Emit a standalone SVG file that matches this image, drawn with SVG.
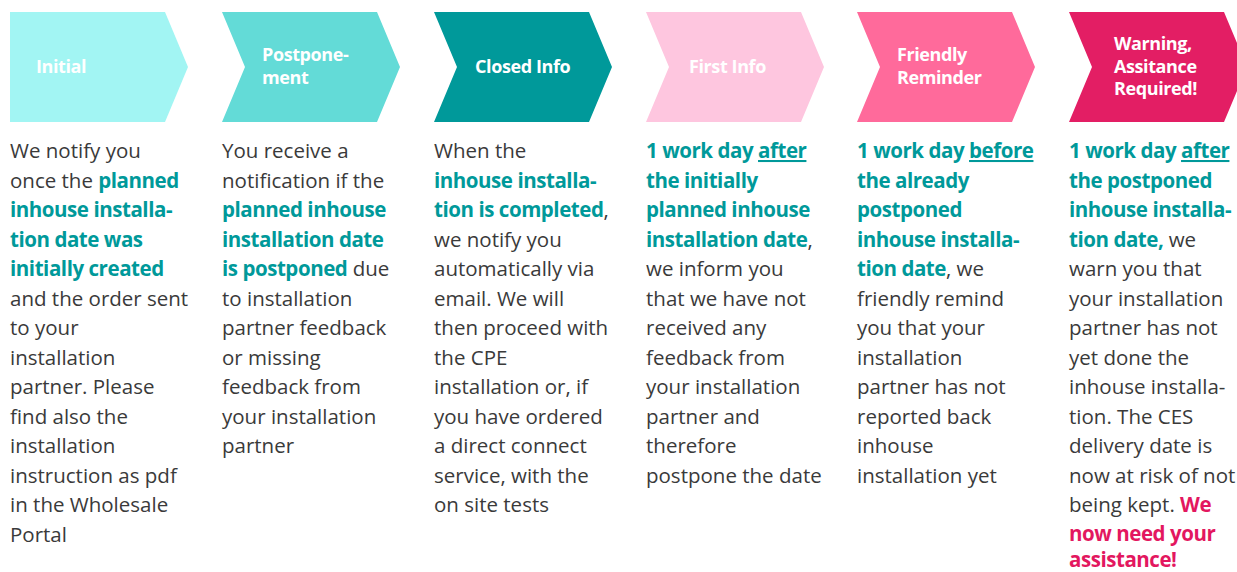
<svg xmlns="http://www.w3.org/2000/svg" width="1237" height="572" viewBox="0 0 1237 572">
<style>
text{font-family:"Open Sans","Noto Sans","Liberation Sans",sans-serif;}
.b{font-size:20.5px;fill:#3a3a3a;}
.t{font-weight:700;fill:#00999a;letter-spacing:-0.45px;}
.p{font-weight:700;fill:#e3175f;letter-spacing:-0.45px;}
.u{text-decoration:underline;}
.h{font-size:18px;font-weight:700;fill:#ffffff;letter-spacing:-0.4px;}
</style>
<rect width="1237" height="572" fill="#ffffff"/>
<g id="node-initial">
<path d="M10,12 H165 L188,67 L165,122 H10 Z" fill="#a2f5f3"/>
<text class="h" x="36" y="73">Initial</text>
</g>
<g id="node-postponement">
<path d="M222,12 H377 L400,67 L377,122 H222 L245,67 Z" fill="#63dbd7"/>
<text class="h" x="262" y="61">Postpone-</text>
<text class="h" x="262" y="84">ment</text>
</g>
<g id="node-closed-info">
<path d="M434,12 H589 L612,67 L589,122 H434 L457,67 Z" fill="#00999a"/>
<text class="h" x="475" y="73">Closed Info</text>
</g>
<g id="node-first-info">
<path d="M646,12 H801 L824,67 L801,122 H646 L669,67 Z" fill="#fec6df"/>
<text class="h" x="689" y="73">First Info</text>
</g>
<g id="node-friendly-reminder">
<path d="M857,12 H1012 L1035,67 L1012,122 H857 L880,67 Z" fill="#ff6a9b"/>
<text class="h" x="897" y="61">Friendly</text>
<text class="h" x="897" y="84">Reminder</text>
</g>
<g id="node-warning">
<path d="M1069,12 H1224 L1247,67 L1224,122 H1069 L1092,67 Z" fill="#e31e64"/>
<text class="h" x="1114" y="50">Warning,</text>
<text class="h" x="1114" y="73">Assitance</text>
<text class="h" x="1114" y="95">Required!</text>
</g>
<g id="connectors"></g>
<g id="text-initial" class="b">
<text x="10" y="158">We notify you</text>
<text x="10" y="187.5">once the <tspan class="t">planned</tspan></text>
<text x="10" y="217" class="t">inhouse installa-</text>
<text x="10" y="246.5" class="t">tion date was</text>
<text x="10" y="276" class="t">initially created</text>
<text x="10" y="305.5">and the order sent</text>
<text x="10" y="335">to your</text>
<text x="10" y="364.5">installation</text>
<text x="10" y="394">partner. Please</text>
<text x="10" y="423.5">find also the</text>
<text x="10" y="453">installation</text>
<text x="10" y="482.5">instruction as pdf</text>
<text x="10" y="512">in the Wholesale</text>
<text x="10" y="541.5">Portal</text>
</g>
<g id="text-postponement" class="b">
<text x="222" y="158">You receive a</text>
<text x="222" y="187.5">notification if the</text>
<text x="222" y="217" class="t">planned inhouse</text>
<text x="222" y="246.5" class="t">installation date</text>
<text x="222" y="276"><tspan class="t">is postponed</tspan> due</text>
<text x="222" y="305.5">to installation</text>
<text x="222" y="335">partner feedback</text>
<text x="222" y="364.5">or missing</text>
<text x="222" y="394">feedback from</text>
<text x="222" y="423.5">your installation</text>
<text x="222" y="453">partner</text>
</g>
<g id="text-closed-info" class="b">
<text x="434" y="158">When the</text>
<text x="434" y="187.5" class="t">inhouse installa-</text>
<text x="434" y="217"><tspan class="t">tion is completed</tspan>,</text>
<text x="434" y="246.5">we notify you</text>
<text x="434" y="276">automatically via</text>
<text x="434" y="305.5">email. We will</text>
<text x="434" y="335">then proceed with</text>
<text x="434" y="364.5">the CPE</text>
<text x="434" y="394">installation or, if</text>
<text x="434" y="423.5">you have ordered</text>
<text x="434" y="453">a direct connect</text>
<text x="434" y="482.5">service, with the</text>
<text x="434" y="512">on site tests</text>
</g>
<g id="text-first-info" class="b">
<text x="646" y="158" class="t">1 work day <tspan class="u">after</tspan></text>
<text x="646" y="187.5" class="t">the initially</text>
<text x="646" y="217" class="t">planned inhouse</text>
<text x="646" y="246.5"><tspan class="t">installation date</tspan>,</text>
<text x="646" y="276">we inform you</text>
<text x="646" y="305.5">that we have not</text>
<text x="646" y="335">received any</text>
<text x="646" y="364.5">feedback from</text>
<text x="646" y="394">your installation</text>
<text x="646" y="423.5">partner and</text>
<text x="646" y="453">therefore</text>
<text x="646" y="482.5">postpone the date</text>
</g>
<g id="text-friendly-reminder" class="b">
<text x="857" y="158" class="t">1 work day <tspan class="u">before</tspan></text>
<text x="857" y="187.5" class="t">the already</text>
<text x="857" y="217" class="t">postponed</text>
<text x="857" y="246.5" class="t">inhouse installa-</text>
<text x="857" y="276"><tspan class="t">tion date</tspan>, we</text>
<text x="857" y="305.5">friendly remind</text>
<text x="857" y="335">you that your</text>
<text x="857" y="364.5">installation</text>
<text x="857" y="394">partner has not</text>
<text x="857" y="423.5">reported back</text>
<text x="857" y="453">inhouse</text>
<text x="857" y="482.5">installation yet</text>
</g>
<g id="text-warning" class="b">
<text x="1069" y="158" class="t">1 work day <tspan class="u">after</tspan></text>
<text x="1069" y="187.5" class="t">the postponed</text>
<text x="1069" y="217" class="t">inhouse installa-</text>
<text x="1069" y="246.5"><tspan class="t">tion date,</tspan> we</text>
<text x="1069" y="276">warn you that</text>
<text x="1069" y="305.5">your installation</text>
<text x="1069" y="335">partner has not</text>
<text x="1069" y="364.5">yet done the</text>
<text x="1069" y="394">inhouse installa-</text>
<text x="1069" y="423.5">tion. The CES</text>
<text x="1069" y="453">delivery date is</text>
<text x="1069" y="482.5">now at risk of not</text>
<text x="1069" y="512">being kept. <tspan class="p">We</tspan></text>
<text x="1069" y="541" class="p">now need your</text>
<text x="1069" y="567" class="p">assistance!</text>
</g>
</svg>
